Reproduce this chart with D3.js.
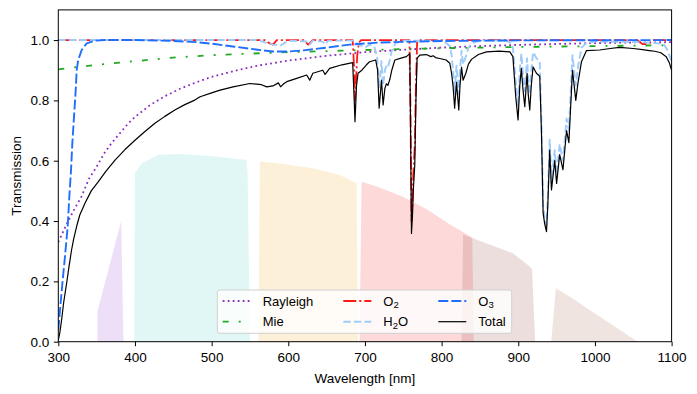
<!DOCTYPE html>
<html>
<head>
<meta charset="utf-8">
<script src="https://cdn.jsdelivr.net/npm/d3@7"></script>
<style>
  body { margin: 0; background: #fff; }
  svg { font-family: "Liberation Sans", Arial, sans-serif; }
  .tick text { font-size: 13.5px; fill: #000; }
  .tick line { stroke: #000; }
</style>
</head>
<body>
<div id="chart"></div>
<script>
// data (wavelength in nm, transmission 0..1)
const rayleighWl = [300, 310, 320, 330, 340, 350, 360, 370, 380, 390, 400, 420, 440, 460, 480, 500, 530, 560, 600, 650, 700, 750, 800, 850, 900, 950, 1000, 1050, 1100]
const rayleighT = [0.33, 0.385, 0.435, 0.48, 0.54, 0.58, 0.625, 0.66, 0.69, 0.72, 0.745, 0.785, 0.815, 0.84, 0.86, 0.878, 0.898, 0.915, 0.932, 0.948, 0.96, 0.968, 0.975, 0.98, 0.984, 0.987, 0.99, 0.992, 0.993]

const mieWl = [300, 350, 400, 450, 500, 600, 700, 800, 900, 1000, 1100]
const mieT = [0.903, 0.918, 0.93, 0.942, 0.95, 0.96, 0.967, 0.973, 0.977, 0.98, 0.983]

const o2Wl = [300, 570, 575, 580, 585, 620, 626, 632, 684, 686, 687, 688, 690, 692, 695, 758, 759.5, 760.7, 762, 763, 765, 766.5, 768, 770, 1055, 1062, 1070, 1076, 1100]
const o2T = [1, 1, 0.99, 0.985, 1, 1, 0.985, 1, 1, 0.9, 0.8, 0.85, 0.95, 0.99, 1, 1, 0.75, 0.4, 0.45, 0.55, 0.65, 0.85, 0.99, 1, 1, 0.987, 0.987, 1, 1]

const h2oWl = [300, 560, 570, 580, 590, 595, 600, 625, 628, 632, 645, 648, 652, 685, 692, 700, 706, 712, 716, 718.5, 721.6, 723.7, 726, 728, 730, 732.5, 735, 740, 750, 800, 806, 810.7, 813, 815, 817, 819.4, 822.4, 824, 826, 828, 831.6, 835, 840, 850, 885, 890, 893, 896.7, 899.7, 902, 904, 906, 908.5, 911.5, 913, 915, 917, 919.3, 923.7, 928, 930.2, 932.4, 934.5, 936.8, 938.5, 941, 943.3, 947.6, 950, 954, 958.3, 963, 966, 970.7, 975, 978, 982.4, 989, 1000, 1060, 1080, 1090, 1095, 1100]
const h2oT = [1, 1, 0.992, 0.985, 0.982, 0.99, 0.998, 0.995, 0.985, 0.998, 0.995, 0.985, 0.998, 0.998, 0.985, 0.975, 0.985, 0.98, 0.94, 0.84, 0.93, 0.85, 0.9, 0.915, 0.91, 0.935, 0.965, 0.99, 0.998, 0.998, 0.99, 0.98, 0.95, 0.9, 0.825, 0.915, 0.82, 0.905, 0.965, 0.92, 0.945, 0.975, 0.99, 0.998, 0.998, 0.99, 0.975, 0.86, 0.78, 0.9, 0.955, 0.89, 0.83, 0.94, 0.87, 0.82, 0.9, 0.96, 0.94, 0.93, 0.74, 0.45, 0.41, 0.385, 0.48, 0.67, 0.53, 0.635, 0.555, 0.655, 0.6, 0.74, 0.7, 0.95, 0.85, 0.91, 0.975, 0.99, 0.995, 0.993, 0.99, 0.985, 0.965, 0.93]

const o3Wl = [300, 302.2, 305.3, 308.7, 312.2, 314.4, 316.6, 318.3, 320.5, 322.7, 324, 326, 330.5, 337, 348, 360, 400, 450, 480, 500, 530, 560, 580, 600, 620, 650, 680, 720, 800, 900, 1100]
const o3T = [0.039, 0.105, 0.193, 0.282, 0.381, 0.481, 0.569, 0.658, 0.746, 0.834, 0.9, 0.934, 0.967, 0.989, 0.998, 1, 1, 0.997, 0.993, 0.988, 0.978, 0.968, 0.962, 0.962, 0.966, 0.975, 0.985, 0.992, 0.997, 0.999, 1]

const totalWl = [300, 302, 304.3, 307, 310.8, 314, 317.3, 320, 323.8, 328, 334.8, 343, 352, 362, 374, 387, 400, 413, 426, 439, 452, 465, 478, 485, 500, 511, 528, 550, 565, 572, 580, 587, 590, 594, 598, 610, 624, 628, 632, 645, 648, 654, 670, 684, 686, 687, 689, 691, 696, 702, 706, 714, 716.5, 718.5, 721.6, 723.7, 726, 728, 730, 732.5, 735, 739, 747, 754, 758.5, 759.5, 760.7, 762, 763, 765, 766.5, 768, 771.6, 780, 786, 789, 792, 797.6, 806, 810.7, 813, 815, 817, 819.4, 822.4, 824, 826, 828, 831.6, 835, 839, 848, 858.5, 875, 889, 893, 896.7, 899.7, 902, 904, 906, 908.5, 911.5, 913, 915, 917, 919.3, 923.7, 928, 930.2, 932.4, 934.5, 936.8, 938.5, 941, 943.3, 947.6, 950, 954, 958.3, 963, 966, 970.7, 975, 978, 982.4, 989, 1006, 1020, 1032, 1050, 1062, 1071, 1078, 1086, 1093, 1097, 1100]
const totalT = [0.005, 0.03, 0.072, 0.13, 0.193, 0.25, 0.304, 0.34, 0.381, 0.42, 0.459, 0.5, 0.53, 0.565, 0.602, 0.637, 0.668, 0.697, 0.724, 0.747, 0.768, 0.786, 0.801, 0.812, 0.825, 0.834, 0.845, 0.856, 0.852, 0.845, 0.848, 0.858, 0.845, 0.855, 0.862, 0.872, 0.884, 0.867, 0.89, 0.9, 0.886, 0.906, 0.918, 0.925, 0.8, 0.729, 0.85, 0.89, 0.9, 0.918, 0.928, 0.934, 0.9, 0.774, 0.867, 0.785, 0.84, 0.855, 0.85, 0.87, 0.9, 0.934, 0.94, 0.945, 0.955, 0.7, 0.359, 0.42, 0.5, 0.587, 0.8, 0.94, 0.95, 0.952, 0.945, 0.948, 0.942, 0.939, 0.934, 0.923, 0.89, 0.845, 0.774, 0.86, 0.768, 0.85, 0.91, 0.867, 0.89, 0.92, 0.936, 0.952, 0.961, 0.963, 0.961, 0.945, 0.812, 0.735, 0.85, 0.906, 0.84, 0.779, 0.89, 0.82, 0.768, 0.85, 0.911, 0.89, 0.88, 0.7, 0.426, 0.39, 0.365, 0.45, 0.635, 0.503, 0.6, 0.525, 0.62, 0.57, 0.7, 0.66, 0.9, 0.8, 0.86, 0.928, 0.965, 0.967, 0.972, 0.976, 0.972, 0.968, 0.965, 0.963, 0.958, 0.945, 0.925, 0.9]

// filter passbands drawn behind the curves: [wavelength, transmission]
const bandViolet = [[351, 0], [351, 0.1], [382, 0.4], [385, 0]]
const bandCyan = [[399, 0], [400, 0.56], [408.7, 0.591], [430, 0.619], [458.7, 0.622], [502, 0.615], [545.6, 0.602], [547, 0.55], [550, 0]]
const bandOrange = [[561, 0], [563, 0.597], [589, 0.591], [632.5, 0.575], [667, 0.553], [689, 0.525], [691, 0]]
const bandRed = [[693, 0], [695.6, 0.53], [720, 0.51], [750, 0.48], [780, 0.44], [810, 0.39], [830, 0.36], [840, 0.345], [842, 0]]
const bandRose = [[826, 0], [828, 0.355], [858, 0.326], [893, 0.293], [915, 0.249], [918, 0.24], [922, 0]]
const bandTan = [[943, 0], [949, 0.177], [970, 0.145], [993, 0.105], [1020, 0.06], [1050, 0.01], [1055, 0]]

const xTicks = [300, 400, 500, 600, 700, 800, 900, 1000, 1100]
const yTicks = [0, 0.2, 0.4, 0.6, 0.8, 1.0]

const WIDTH = 697
const HEIGHT = 394
const LEFT = 58.3, RIGHT = 671.6, TOP = 9.9, BOTTOM = 341.7

const main = _ => {
    const svg = d3.select('#chart').append('svg')
        .attr('width', WIDTH)
        .attr('height', HEIGHT)

    const x = d3.scaleLinear().domain([300, 1100]).range([LEFT, RIGHT])
    const y = d3.scaleLinear().domain([0, 1.1]).range([BOTTOM, TOP])

    svg.append('clipPath').attr('id', 'clip')
        .append('rect')
        .attr('x', LEFT).attr('y', TOP)
        .attr('width', RIGHT - LEFT).attr('height', BOTTOM - TOP)

    const plot = svg.append('g').attr('clip-path', 'url(#clip)')

    const area = d3.line().x(d => x(d[0])).y(d => y(d[1]))
    const bands = [
        [bandViolet, '#a05fd7'],
        [bandCyan, '#64d7cd'],
        [bandOrange, '#f5b43c'],
        [bandRed, '#f54141'],
        [bandRose, '#a55a5a'],
        [bandTan, '#af7a62']
    ]
    bands.forEach(([pts, col]) => {
        plot.append('path')
            .attr('d', area(pts) + 'Z')
            .attr('fill', col)
            .attr('fill-opacity', 0.2)
    })

    const line = d3.line().x(d => x(d[0])).y(d => y(d[1]))
    const series = [
        { name: 'Rayleigh', wl: rayleighWl, t: rayleighT, color: '#8b2fc0', width: 1.8, dash: '1.8,3.2' },
        { name: 'Mie', wl: mieWl, t: mieT, color: '#22aa22', width: 1.8, dash: '6,10,2,10' },
        { name: 'O2', wl: o2Wl, t: o2T, color: '#ff1a1a', width: 1.8, dash: '13,3,2,3' },
        { name: 'H2O', wl: h2oWl, t: h2oT, color: '#9fcbfa', width: 1.9, dash: '7.4,3.2' },
        { name: 'O3', wl: o3Wl, t: o3T, color: '#1f6fff', width: 1.9, dash: '10,3' },
        { name: 'Total', wl: totalWl, t: totalT, color: '#000', width: 1.2, dash: null }
    ]
    series.forEach(s => {
        plot.append('path')
            .datum(s.wl.map((w, i) => [w, s.t[i]]))
            .attr('d', line)
            .attr('fill', 'none')
            .attr('stroke', s.color)
            .attr('stroke-width', s.width)
            .attr('stroke-dasharray', s.dash)
            .attr('stroke-linejoin', 'round')
    })

    // axes
    svg.append('g')
        .attr('transform', `translate(0, ${BOTTOM})`)
        .call(d3.axisBottom(x).tickValues(xTicks).tickSize(4.5).tickPadding(6.5).tickFormat(d3.format('d')))
        .call(g => g.select('.domain').remove())
    svg.append('g')
        .attr('transform', `translate(${LEFT}, 0)`)
        .call(d3.axisLeft(y).tickValues(yTicks).tickSize(4.5).tickPadding(4.5).tickFormat(d3.format('.1f')))
        .call(g => g.select('.domain').remove())

    svg.append('rect')
        .attr('x', LEFT).attr('y', TOP)
        .attr('width', RIGHT - LEFT).attr('height', BOTTOM - TOP)
        .attr('fill', 'none').attr('stroke', '#000').attr('stroke-width', 1)

    svg.append('text')
        .attr('x', (LEFT + RIGHT) / 2).attr('y', 383)
        .attr('text-anchor', 'middle').attr('font-size', 13.5)
        .text('Wavelength [nm]')
    svg.append('text')
        .attr('transform', `translate(21, ${(TOP + BOTTOM) / 2}) rotate(-90)`)
        .attr('text-anchor', 'middle').attr('font-size', 13.5)
        .text('Transmission')

    // legend, 3 columns x 2 rows
    const legend = svg.append('g')
    legend.append('rect')
        .attr('x', 217.3).attr('y', 290)
        .attr('width', 294.4).attr('height', 43.3)
        .attr('rx', 2.5)
        .attr('fill', '#fff').attr('fill-opacity', 0.8)
        .attr('stroke', '#d0d0d0').attr('stroke-width', 1)

    const colX = [222.7, 343.3, 438.3]
    const rowY = [301, 321.7]
    series.forEach((s, i) => {
        const cx = colX[Math.floor(i / 2)]
        const cy = rowY[i % 2]
        legend.append('line')
            .attr('x1', cx).attr('x2', cx + 28)
            .attr('y1', cy).attr('y2', cy)
            .attr('stroke', s.color)
            .attr('stroke-width', s.width)
            .attr('stroke-dasharray', s.dash)
        const t = legend.append('text')
            .attr('x', cx + 40).attr('y', cy + 4.7)
            .attr('font-size', 13)
        const m = s.name.match(/^([A-Z]+)(\d)(.*)$/)
        if (m) {
            t.append('tspan').text(m[1])
            t.append('tspan').attr('font-size', 9.5).attr('dy', 2.5).text(m[2])
            if (m[3]) t.append('tspan').attr('dy', -2.5).text(m[3])
        } else {
            t.text(s.name)
        }
    })
}

document.addEventListener('DOMContentLoaded', main)
</script>
</body>
</html>
